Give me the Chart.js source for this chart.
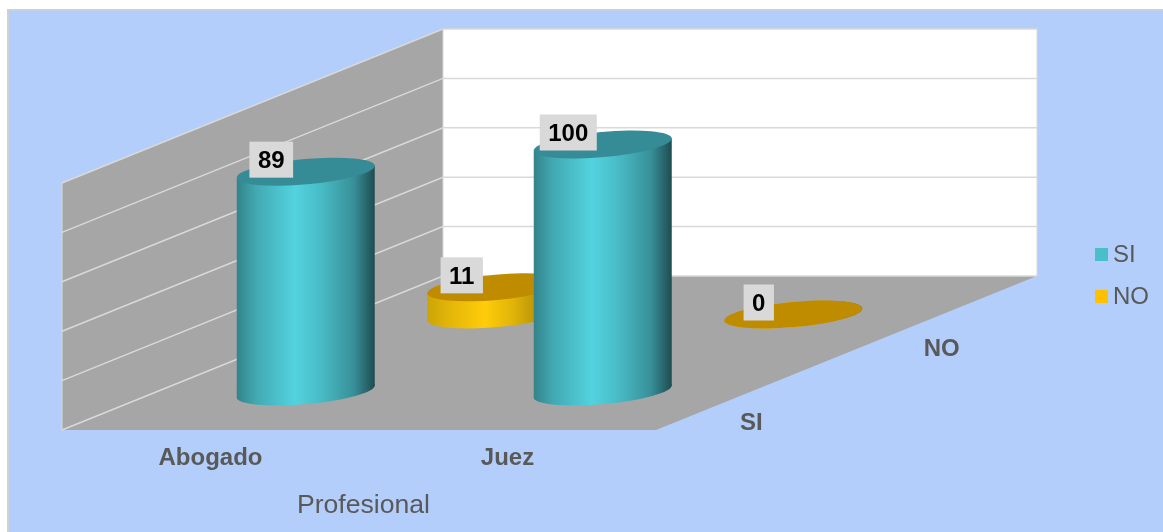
<!DOCTYPE html>
<html>
<head>
<meta charset="utf-8">
<style>html,body{margin:0;padding:0;background:#fff}canvas{display:block}</style>
<script src="https://cdn.jsdelivr.net/npm/chart.js@4"></script>
</head>
<body>
<canvas id="c" width="1163" height="532" style="width:1163px;height:532px"></canvas>
<script>
const categories = ['Abogado', 'Juez'];
const seriesNames = ['SI', 'NO'];
const valuesSI = [89, 100];
const valuesNO = [11, 0];
const yTickStep = 20;
const axisTitle = 'Profesional';

const bodyColors = ['#52D3DF', '#FFCC0A'];
const topColors = ['#358C96', '#BF8C00'];
const legendColors = ['#4BBFC9', '#FFC000'];

const FONT = '"Liberation Sans", Arial, sans-serif';
const TEXT = '#595959';
const DEPTH_X = 381, DEPTH_Y = -154;
const TILT = -5.14 * Math.PI / 180;
const MINOR = 12.6;

function depthOf(i) { return (i + 0.5) / seriesNames.length; }

function shade(hex, f) {
  const n = parseInt(hex.slice(1), 16);
  const c = s => Math.round(((n >> s) & 255) * f);
  return `rgb(${c(16)},${c(8)},${c(0)})`;
}

class Cylinder extends Chart.BarElement {
  static id = 'cylinder';
  draw(ctx) {
    const { x, y, base, width } = this.getProps(['x', 'y', 'base', 'width'], true);
    const hx = width / 2, rx = hx * 1.0043;
    const slant = 6;
    const col = this.options.backgroundColor;
    const warm = col === bodyColors[1];
    const g = ctx.createLinearGradient(x - hx, 0, x + hx, 0);
    g.addColorStop(0, shade(col, warm ? 0.8 : 0.62));
    g.addColorStop(0.14, shade(col, warm ? 0.88 : 0.8));
    g.addColorStop(0.42, col);
    g.addColorStop(0.62, shade(col, 0.88));
    g.addColorStop(0.85, shade(col, 0.68));
    g.addColorStop(1, shade(col, 0.36));
    ctx.save();
    ctx.fillStyle = g;
    ctx.beginPath();
    ctx.moveTo(x - hx, y + slant);
    ctx.lineTo(x - hx, base + slant);
    ctx.lineTo(x + hx, base - slant);
    ctx.lineTo(x + hx, y - slant);
    ctx.closePath();
    ctx.fill();
    ctx.beginPath();
    ctx.ellipse(x, base, rx, MINOR, TILT, 0, Math.PI * 2);
    ctx.fill();
    ctx.fillStyle = this.options.borderColor;
    ctx.beginPath();
    ctx.ellipse(x, y, rx, MINOR, TILT, 0, Math.PI * 2);
    ctx.fill();
    ctx.restore();
  }
}
Chart.register(Cylinder);
Chart.defaults.datasets.bar.dataElementType = 'cylinder';

const scene = {
  id: 'scene',
  beforeDraw(chart) {
    const c = chart.ctx;
    c.save();
    c.fillStyle = '#FFFFFF'; c.fillRect(0, 0, chart.width, chart.height);
    c.fillStyle = '#D0D0D0'; c.fillRect(7, 9, chart.width, chart.height);
    c.fillStyle = '#B3CEFB'; c.fillRect(9, 10.5, chart.width, chart.height);
    c.restore();
  },
  beforeDatasetsDraw(chart) {
    const c = chart.ctx, xs = chart.scales.x, ys = chart.scales.y;
    const L = xs.left, R = xs.right, T = ys.top, B = ys.bottom;
    c.save();
    // back wall
    c.fillStyle = '#FFFFFF';
    c.fillRect(L + DEPTH_X, T + DEPTH_Y, R - L, B - T);
    // side wall
    c.fillStyle = '#A6A6A6';
    c.beginPath();
    c.moveTo(L, T); c.lineTo(L + DEPTH_X, T + DEPTH_Y);
    c.lineTo(L + DEPTH_X, B + DEPTH_Y); c.lineTo(L, B);
    c.closePath(); c.fill();
    // floor
    c.beginPath();
    c.moveTo(L, B); c.lineTo(R, B);
    c.lineTo(R + DEPTH_X, B + DEPTH_Y); c.lineTo(L + DEPTH_X, B + DEPTH_Y);
    c.closePath(); c.fill();
    // grid
    c.strokeStyle = '#D9D9D9'; c.lineWidth = 1.5;
    ys.ticks.forEach(t => {
      const p = ys.getPixelForValue(t.value);
      c.beginPath();
      c.moveTo(L, p); c.lineTo(L + DEPTH_X, p + DEPTH_Y);
      c.lineTo(R + DEPTH_X, p + DEPTH_Y);
      c.stroke();
    });
    // wall edges
    c.lineWidth = 1;
    [L + DEPTH_X, R + DEPTH_X].forEach(px => {
      c.beginPath();
      c.moveTo(px, T + DEPTH_Y); c.lineTo(px, B + DEPTH_Y);
      c.stroke();
    });
    c.beginPath();
    c.moveTo(L, T); c.lineTo(L, B);
    c.stroke();
    // depth axis labels
    c.fillStyle = TEXT; c.font = 'bold 24px ' + FONT;
    c.textAlign = 'center'; c.textBaseline = 'middle';
    seriesNames.forEach((n, i) => {
      const d = depthOf(i);
      c.fillText(n, R + DEPTH_X * d, B + (DEPTH_Y + 6) * d + 30.5);
    });
    // legend
    c.font = '24px ' + FONT; c.textAlign = 'left';
    seriesNames.forEach((n, i) => {
      const ly = 254 + i * 42;
      c.fillStyle = legendColors[i];
      c.fillRect(1095, ly - 6, 13, 13);
      c.fillStyle = TEXT;
      c.fillText(n, 1113, ly + 1);
    });
    c.restore();
  },
  beforeDatasetDraw(chart, args) {
    const d = depthOf(args.index);
    chart.ctx.save();
    chart.ctx.translate(DEPTH_X * d, DEPTH_Y * d);
  },
  afterDatasetDraw(chart) { chart.ctx.restore(); },
  afterDatasetsDraw(chart) {
    const c = chart.ctx;
    c.save();
    c.font = 'bold 24px ' + FONT;
    c.textAlign = 'center'; c.textBaseline = 'middle';
    chart.data.datasets.forEach((ds, i) => {
      const d = depthOf(i);
      chart.getDatasetMeta(i).data.forEach((el, k) => {
        const cx = el.x + DEPTH_X * d - 34.5;
        const cy = el.y + DEPTH_Y * d - 12;
        const txt = String(ds.data[k]);
        const w = c.measureText(txt).width + 17;
        c.fillStyle = '#D9D9D9';
        c.fillRect(cx - w / 2, cy - 18, w, 36);
        c.fillStyle = '#000000';
        c.fillText(txt, cx, cy + 2);
      });
    });
    c.restore();
  }
};

new Chart(document.getElementById('c'), {
  type: 'bar',
  data: {
    labels: categories,
    datasets: [valuesSI, valuesNO].map((v, i) => ({
      label: seriesNames[i],
      data: v,
      backgroundColor: bodyColors[i],
      borderColor: topColors[i],
      borderWidth: 0,
      grouped: false,
      barPercentage: 0.4646,
      categoryPercentage: 1,
      clip: false
    }))
  },
  options: {
    responsive: false,
    animation: false,
    layout: { padding: { left: 62, right: 507, top: 183, bottom: 0 } },
    plugins: { legend: { display: false }, tooltip: { enabled: false } },
    scales: {
      x: {
        afterFit: s => { s.height = 102; },
        afterUpdate: s => {
          if (s.shiftedTitle) return;
          s.shiftedTitle = true;
          const drawTitle = s.drawTitle;
          s.drawTitle = function () {
            this.ctx.save();
            this.ctx.translate(4.5, 0);
            drawTitle.call(this);
            this.ctx.restore();
          };
        },
        grid: { display: false, drawTicks: false },
        border: { display: false },
        ticks: { color: TEXT, font: { family: FONT, size: 24, weight: 'bold' }, padding: 14, maxRotation: 0, autoSkip: false },
        title: { display: true, text: axisTitle, color: TEXT, font: { family: FONT, size: 26.6 }, padding: { top: 0, bottom: 10 } }
      },
      y: {
        min: 0, max: 100,
        grid: { display: false, drawTicks: false },
        border: { display: false },
        ticks: { display: false, stepSize: yTickStep }
      }
    }
  },
  plugins: [scene]
});
</script>
</body>
</html>
